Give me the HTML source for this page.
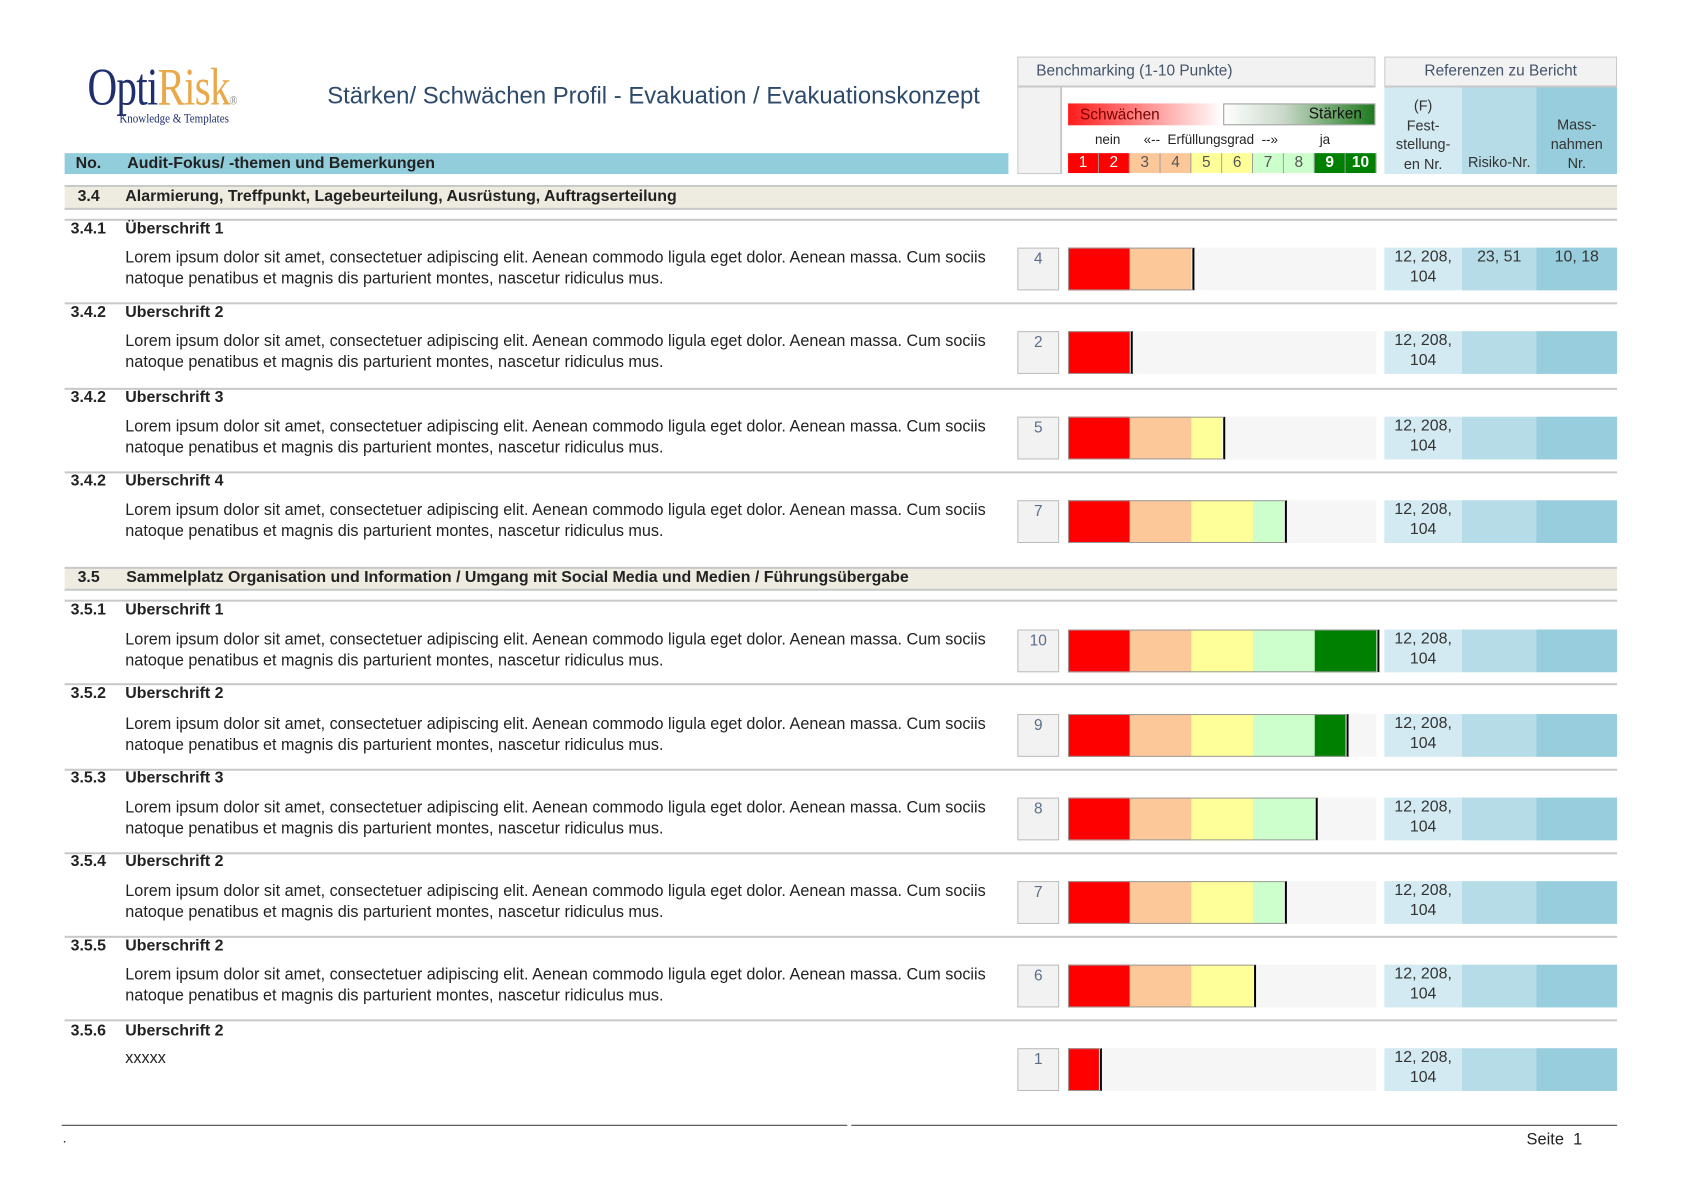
<!DOCTYPE html>
<html><head><meta charset="utf-8">
<style>
body{margin:0;background:#fff;width:1683px;height:1190px;position:relative;overflow:hidden;font-family:"Liberation Sans",Arial,sans-serif;}
#wrap{position:absolute;left:0;top:0;width:1683px;height:1190px;transform:scale(0.9945);transform-origin:0 0;}
.a{position:absolute;}
.t{position:absolute;white-space:nowrap;font-size:16.3px;color:#222;}
.b{font-weight:bold;font-size:16px !important;}
.hl{position:absolute;left:65px;width:1561px;height:2px;background:#c8c8c8;}
</style></head><body><div id="wrap">
<div class="a" style="left:88px;top:60px;font-family:'Liberation Serif',serif;font-size:53px;line-height:56px;transform:scaleX(0.78);transform-origin:left top;letter-spacing:-1px;white-space:nowrap"><span style="color:#1f2f6e">Opti</span><span style="color:#e9a84a">Risk</span><span style="font-size:13px;color:#888">®</span></div>
<div class="a" style="left:120px;top:111px;font-family:'Liberation Serif',serif;font-size:13px;color:#1f2f6e;transform:scaleX(0.85);transform-origin:left top;white-space:nowrap">Knowledge &amp; Templates</div>
<div class="t" style="left:329px;top:83px;font-size:24px;color:#2e4a6b">Stärken/ Schwächen Profil - Evakuation / Evakuationskonzept</div>
<div class="a" style="left:65px;top:154px;width:949px;height:21px;background:#92cddc"></div>
<div class="t b" style="left:76px;top:156px">No.</div>
<div class="t b" style="left:128px;top:156px">Audit-Fokus/ -themen und Bemerkungen</div>
<div class="a" style="left:1023px;top:57px;width:358px;height:116px;border:1px solid #c8c8c8;background:#f2f2f2"></div>
<div class="a" style="left:1023px;top:57px;width:358px;height:28px;border:1px solid #c8c8c8;border-bottom:2px solid #c8c8c8;background:#f2f2f2"></div>
<div class="t" style="left:1042px;top:63px;font-size:15.5px;color:#44546a">Benchmarking (1-10 Punkte)</div>
<div class="a" style="left:1066px;top:88px;width:317px;height:87px;background:#fff;border-left:2px solid #c8c8c8"></div>
<div class="a" style="left:1074px;top:104px;width:155px;height:22px;background:linear-gradient(90deg,#ff1a1a,#ff6060 30%,#fff);"></div>
<div class="a" style="left:1230px;top:104px;width:153px;height:22px;background:linear-gradient(90deg,#fff,#c8d8c8 40%,#1e7a1e);border:1px solid #999;box-sizing:border-box"></div>
<div class="t" style="left:1086px;top:107px;font-size:15.5px;color:#700">Schwächen</div>
<div class="t" style="left:1316px;top:106px;font-size:15.5px;color:#111">Stärken</div>
<div class="t" style="left:1101px;top:133px;font-size:13.5px">nein</div>
<div class="t" style="left:1150px;top:133px;font-size:13.5px">«--&nbsp; Erfüllungsgrad&nbsp; --»</div>
<div class="t" style="left:1327px;top:133px;font-size:13.5px">ja</div>
<div id="nums"></div>
<div class="a" style="left:1392px;top:57px;width:232px;height:28px;border:1px solid #c8c8c8;border-bottom:2px solid #c8c8c8;background:#f2f2f2"></div>
<div class="t" style="left:1392px;top:63px;width:234px;text-align:center;font-size:15.5px;color:#44546a">Referenzen zu Bericht</div>
<div class="a" style="left:1392px;top:88px;width:78px;height:87px;background:#d3eaf2"></div>
<div class="a" style="left:1470px;top:88px;width:75px;height:87px;background:#b6dce8"></div>
<div class="a" style="left:1545px;top:88px;width:81px;height:87px;background:#97cddd"></div>
<div class="a" style="left:1392px;top:98px;width:78px;text-align:center;font-size:14.5px;line-height:19.5px;color:#333">(F)<br>Fest-<br>stellung-<br>en Nr.</div>
<div class="a" style="left:1470px;top:156px;width:75px;text-align:center;font-size:14.5px;color:#333">Risiko-Nr.</div>
<div class="a" style="left:1545px;top:117px;width:81px;text-align:center;font-size:14.5px;line-height:19.5px;color:#333">Mass-<br>nahmen<br>Nr.</div>
<div class="a" style="left:65px;top:186px;width:1561px;height:21px;background:#eeebe0;border-top:2px solid #c8c8c8;border-bottom:2px solid #c8c8c8"></div>
<div class="t b" style="left:78px;top:189px">3.4</div>
<div class="t b" style="left:126px;top:189px">Alarmierung, Treffpunkt, Lagebeurteilung, Ausrüstung, Auftragserteilung</div>
<div class="a" style="left:65px;top:570px;width:1561px;height:20px;background:#eeebe0;border-top:2px solid #c8c8c8;border-bottom:2px solid #c8c8c8"></div>
<div class="t b" style="left:78px;top:572px">3.5</div>
<div class="t b" style="left:127px;top:572px">Sammelplatz Organisation und Information / Umgang mit Social Media und Medien / Führungsübergabe</div>
<div id="rows"></div>
<div class="a" style="left:62px;top:1131px;width:790px;height:1px;background:#333"></div>
<div class="a" style="left:856px;top:1131px;width:770px;height:1px;background:#333"></div>
<div class="t" style="left:63px;top:1136px;font-size:14px">.</div>
<div class="t" style="left:1535px;top:1137px;font-size:16.5px">Seite&nbsp; 1</div>
</div>
<script>
var U=31,X0=1074;
var cols=['#ff0000','#ff0000','#fcc89a','#fcc89a','#ffff99','#ffff99','#ccffcc','#ccffcc','#008000','#008000'];
var ncol=['#fff','#fff','#555','#555','#555','#555','#555','#555','#fff','#fff'];
var h='';
for(var i=0;i<10;i++){h+='<div class="a" style="left:'+(X0+i*U)+'px;top:154px;width:'+(U-1)+'px;height:20px;background:'+cols[i]+';border-right:1px solid #999;text-align:center;font-size:15.5px;line-height:20px;color:'+ncol[i]+(i>=8?';font-weight:bold':'')+'">'+(i+1)+'</div>';}
document.getElementById('nums').innerHTML=h;
var rows=[
['3.4.1','Überschrift 1',230,249,4,1],
['3.4.2','Uberschrift 2',314,333,2,0],
['3.4.2','Uberschrift 3',399,419,5,0],
['3.4.2','Uberschrift 4',483,503,7,0],
['3.5.1','Uberschrift 1',613,633,10,0],
['3.5.2','Uberschrift 2',697,718,9,0],
['3.5.3','Uberschrift 3',782,802,8,0],
['3.5.4','Uberschrift 2',866,886,7,0],
['3.5.5','Uberschrift 2',951,970,6,0],
['3.5.6','Uberschrift 2',1036,1054,1,0]];
var lines=[220,304,390,474,603,687,773,857,941,1025];
h='';
lines.forEach(function(y){h+='<div class="hl" style="top:'+y+'px"></div>';});
rows.forEach(function(r,k){
 var hy=r[2],by=r[3],s=r[4];
 h+='<div class="t b" style="left:71px;top:'+(hy-8)+'px">'+r[0]+'</div>';
 h+='<div class="t b" style="left:126px;top:'+(hy-8)+'px">'+r[1]+'</div>';
 if(k==9){h+='<div class="t" style="left:126px;top:'+(by+1)+'px">xxxxx</div>';}
 else{
 h+='<div class="t" style="left:126px;top:'+(by+1)+'px">Lorem ipsum dolor sit amet, consectetuer adipiscing elit. Aenean commodo ligula eget dolor. Aenean massa. Cum sociis</div>';
 h+='<div class="t" style="left:126px;top:'+(by+22)+'px">natoque penatibus et magnis dis parturient montes, nascetur ridiculus mus.</div>';}
 h+='<div class="a" style="left:1023px;top:'+by+'px;width:40px;height:41px;border:1px solid #bbb;background:#f2f2f2;text-align:center;font-size:15.5px;color:#5a6e8a;line-height:22px">'+s+'</div>';
 h+='<div class="a" style="left:'+X0+'px;top:'+by+'px;width:310px;height:43px;background:#f6f6f6"></div>';
 for(var i=0;i<s;i+=2){var w=Math.min(2,s-i)*U;h+='<div class="a" style="left:'+(X0+i*U)+'px;top:'+by+'px;width:'+w+'px;height:43px;background:'+cols[i]+'"></div>';}
 h+='<div class="a" style="left:'+X0+'px;top:'+by+'px;width:'+(s*U)+'px;height:41px;border:1px solid #999;border-right:2px solid #000;box-sizing:content-box"></div>';
 h+='<div class="a" style="left:1392px;top:'+by+'px;width:78px;height:43px;background:#d3eaf2;text-align:center;font-size:16px;line-height:20px;color:#333">12, 208,<br>104</div>';
 h+='<div class="a" style="left:1470px;top:'+by+'px;width:75px;height:43px;background:#b6dce8;text-align:center;font-size:16px;line-height:20px;color:#333">'+(r[5]?'23, 51':'')+'</div>';
 h+='<div class="a" style="left:1545px;top:'+by+'px;width:81px;height:43px;background:#97cddd;text-align:center;font-size:16px;line-height:20px;color:#333">'+(r[5]?'10, 18':'')+'</div>';
});
document.getElementById('rows').innerHTML=h;
</script>
</body></html>
